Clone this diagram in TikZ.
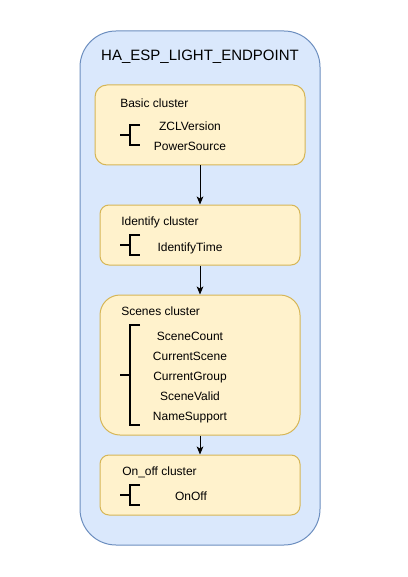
\documentclass[tikz,border=0pt]{standalone}
\usepackage{fontspec}
\setmainfont{Liberation Sans}
\usetikzlibrary{arrows.meta}
\definecolor{outfill}{HTML}{DAE8FC}
\definecolor{outdraw}{HTML}{6C8EBF}
\definecolor{clfill}{HTML}{FFF2CC}
\definecolor{cldraw}{HTML}{D6B656}
\begin{document}
\begin{tikzpicture}[x=0.75pt,y=-0.75pt,
  outerbox/.style={draw=outdraw,fill=outfill,line width=0.75pt,rounded corners=27pt,
    minimum width=180pt,minimum height=385.5pt,inner sep=0pt},
  clbox/.style={draw=cldraw,fill=clfill,line width=0.75pt,inner sep=0pt},
  txt/.style={inner sep=0pt,text height=0.72em,text depth=0.21em,yshift=-0.75pt},
  cltitle/.style={txt,anchor=west,font=\fontsize{9}{11}\selectfont},
  item/.style={txt,font=\fontsize{9}{11}\selectfont},
  bracket/.style={line width=1.5pt,line cap=butt},
  flow/.style={line width=0.75pt,-{Stealth[length=6pt,width=5pt,inset=1.5pt]}}]
\useasboundingbox (0,0) rectangle (407,577);
\node[outerbox] (outer) at (200,288) {};
\node[txt,font=\fontsize{11.25}{13}\selectfont] (title) at (200,56) {HA\_ESP\_LIGHT\_ENDPOINT};
% clusters
\node[clbox,rounded corners=9pt,minimum width=157.5pt,minimum height=60pt] (basic) at (200,125) {};
\node[clbox,rounded corners=6.75pt,minimum width=150pt,minimum height=45pt] (ident) at (200,235) {};
\node[clbox,rounded corners=15pt,minimum width=150pt,minimum height=105pt] (scenes) at (200,365) {};
\node[clbox,rounded corners=6.75pt,minimum width=150pt,minimum height=45pt] (onoff) at (200,485) {};
% titles
\node[cltitle] (basicT) at (120,103) {Basic cluster};
\node[cltitle] (identT) at (121,221) {Identify cluster};
\node[cltitle] (scenesT) at (121,311) {Scenes cluster};
\node[cltitle] (onoffT) at (122,471) {On\_off cluster};
% items
\node[item] (zcl) at (190,126) {ZCLVersion};
\node[item] (pws) at (190,146) {PowerSource};
\node[item] (idt) at (190,247) {IdentifyTime};
\node[item] (sc) at (190,336) {SceneCount};
\node[item] (cs) at (190,356) {CurrentScene};
\node[item] (cg) at (190,376) {CurrentGroup};
\node[item] (sv) at (190,396) {SceneValid};
\node[item] (ns) at (190,416) {NameSupport};
\node[item] (oo) at (191,496) {OnOff};
% brackets
\draw[bracket] (140,125) -- (130,125) -- (130,145) -- (140,145) (120,135) -- (130,135);
\draw[bracket] (140,235) -- (130,235) -- (130,255) -- (140,255) (120,245) -- (130,245);
\draw[bracket] (140,325) -- (130,325) -- (130,425) -- (140,425) (120,375) -- (130,375);
\draw[bracket] (140,485) -- (130,485) -- (130,505) -- (140,505) (120,495) -- (130,495);
% arrows
\draw[flow] (basic.south) -- (ident.north);
\draw[flow] (ident.south) -- (scenes.north);
\draw[flow] (scenes.south) -- (onoff.north);
\end{tikzpicture}
\end{document}
